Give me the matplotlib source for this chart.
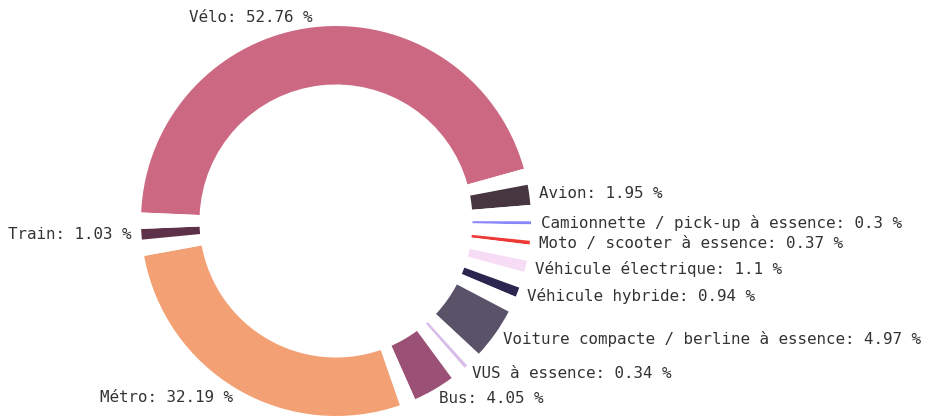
import matplotlib.pyplot as plt

# police à chasse fixe pour imiter l'espacement large des lettres
plt.rcParams['font.family'] = ['DejaVu Sans Mono']

# parts modales (ordre horaire depuis Vélo)
labels = ['Vélo', 'Avion', 'Camionnette / pick-up à essence',
          'Moto / scooter à essence', 'Véhicule électrique',
          'Véhicule hybride', 'Voiture compacte / berline à essence',
          'VUS à essence', 'Bus', 'Métro', 'Train']
values = [52.76, 1.95, 0.3, 0.37, 1.1, 0.94, 4.97, 0.34, 4.05, 32.19, 1.03]
colors = ['#cd6882', '#47363f', '#8a86fa', '#ee3a36', '#f7dcf6',
          '#2b2650', '#5a5269', '#d8bde9', '#9b5076', '#f3a174', '#5d3149']

gap = 1.57  # espace blanc entre les parts

sizes, cols, texts = [], [], []
for lab, v, c in zip(labels, values, colors):
    sizes += [v, gap]
    cols += [c, 'white']
    texts += [f'{lab}: {v:g} %', '']

fig = plt.figure(figsize=(9.27, 4.17), dpi=100)
ax = fig.add_axes([0, 0, 1, 1])
wedges, txts = ax.pie(sizes, colors=cols, labels=texts, startangle=177.5,
                      counterclock=False, labeldistance=1.05,
                      wedgeprops=dict(width=0.3, linewidth=0),
                      textprops=dict(fontsize=11.4, color='#333333'))

# centre du donut à (336, 221) px, rayon 195 px
R = 195
ax.set_xlim(-336 / R, (927 - 336) / R)
ax.set_ylim(-(417 - 221) / R, 221 / R)
ax.set_aspect('equal', adjustable='box')

fig.savefig('out.png', dpi=100)
